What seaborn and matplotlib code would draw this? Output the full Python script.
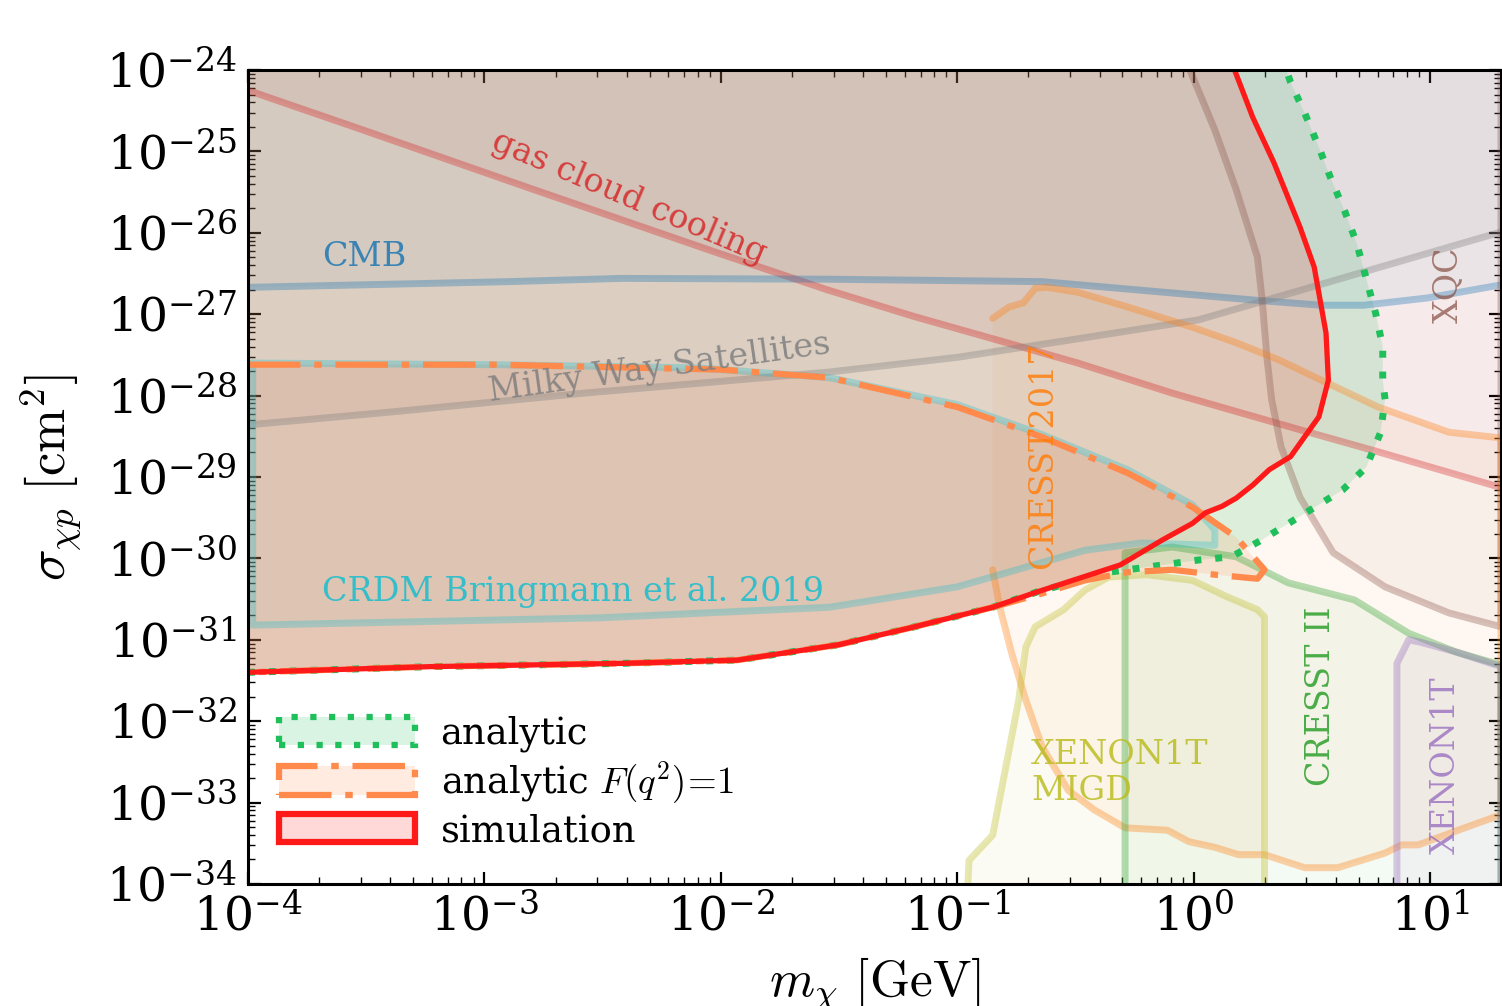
import numpy as np
import pandas as pd
import seaborn as sns
import matplotlib.pyplot as plt
from matplotlib.patches import Patch
from matplotlib.colors import to_rgba
from matplotlib.ticker import LogLocator, NullFormatter

# values: log10 of m_chi [GeV] and log10 of sigma [cm^2]

# gas cloud cooling (excluded above)
gas_m = [-4.00, -3.55, -2.79, -2.00, -1.55, -1.18, -0.73, -0.49, -0.09, 0.45, 0.78, 1.30]
gas_s = [-24.25, -24.70, -25.47, -26.26, -26.70, -27.03, -27.40, -27.60, -27.97, -28.42, -28.69, -29.13]

# CMB (excluded above)
cmb_m = [-4.00, -2.90, -2.42, -1.55, -0.64, 0.27, 0.54, 0.72, 0.99, 1.30]
cmb_s = [-26.67, -26.60, -26.56, -26.57, -26.60, -26.83, -26.89, -26.89, -26.80, -26.64]

# Milky Way satellites (excluded above)
mw_m = [-4.00, -3.39, -2.58, -1.54, -1.00, -0.53, 0.02, 0.27, 0.72, 1.30]
mw_s = [-28.36, -28.20, -27.97, -27.71, -27.53, -27.32, -27.07, -26.86, -26.48, -25.99]

# XQC (excluded to the right)
xqc_m = [-0.03, 0.09, 0.18, 0.27, 0.29, 0.31, 0.33, 0.37, 0.45, 0.59, 0.81, 1.08, 1.30]
xqc_s = [-23.90, -24.74, -25.47, -26.30, -26.83, -27.53, -28.05, -28.63, -29.25, -29.93, -30.35, -30.67, -30.84]

# CRESST 2017 contour (open on its left side)
c17_m = [-0.85, -0.78, -0.72, -0.67, -0.62, -0.49, -0.28, -0.005, 0.18, 0.36, 0.54, 0.78, 1.08, 1.30,
         1.30, 1.10, 0.95, 0.88, 0.81, 0.61, 0.47, 0.30, 0.19, 0.09, -0.02, -0.11, -0.29, -0.42,
         -0.53, -0.64, -0.71, -0.77, -0.82, -0.85]
c17_s = [-27.05, -26.91, -26.86, -26.68, -26.67, -26.73, -26.91, -27.16, -27.35, -27.56, -27.81, -28.14, -28.45, -28.52,
         -33.15, -33.36, -33.52, -33.52, -33.62, -33.80, -33.80, -33.64, -33.64, -33.55, -33.48, -33.34, -33.31, -33.09,
         -32.85, -32.32, -31.74, -31.16, -30.60, -30.14]

# XENON1T MIGD contour
migd_m = [-0.96, -0.95, -0.85, -0.74, -0.71, -0.67, -0.55, -0.46, -0.36, -0.20, -0.005, 0.14, 0.27, 0.30, 0.30]
migd_s = [-34.30, -33.71, -33.40, -31.74, -31.09, -30.84, -30.63, -30.39, -30.23, -30.20, -30.27, -30.47, -30.63, -30.72, -34.30]

# CRESST II contour
c2_m = [-0.29, -0.29, -0.09, 0.18, 0.40, 0.68, 0.82, 0.91, 1.11, 1.30, 1.30]
c2_s = [-34.30, -29.93, -29.86, -29.98, -30.30, -30.51, -30.76, -30.92, -31.15, -31.31, -34.30]

# XENON1T contour
x1t_m = [0.86, 0.86, 0.91, 0.96, 1.11, 1.30, 1.30]
x1t_s = [-34.30, -31.29, -31.00, -31.03, -31.15, -31.33, -34.30]

# CRDM Bringmann et al. 2019 contour
crdm_m = [-3.98, -2.95, -2.09, -1.54, -1.00, -0.64, -0.28, -0.005, 0.09, 0.09, -0.22, -0.46, -1.00, -1.54, -2.51, -3.98, -3.98]
crdm_s = [-27.60, -27.62, -27.66, -27.78, -28.11, -28.48, -28.91, -29.34, -29.65, -29.84, -29.81, -29.90, -30.35, -30.60, -30.73, -30.82, -27.60]

# this work: analytic with F(q^2)=1
f1_m = [-4.00, -2.95, -2.00, -1.54, -1.00, -0.64, -0.28, -0.005, 0.18, 0.30, 0.27, 0.09, -0.09, -0.28, -0.46,
        -0.64, -0.85, -1.18, -1.50, -1.93, -2.42, -3.23, -4.00]
f1_s = [-27.62, -27.62, -27.68, -27.78, -28.14, -28.51, -28.95, -29.37, -29.74, -30.14, -30.25, -30.20, -30.14, -30.17, -30.27,
        -30.43, -30.60, -30.84, -31.06, -31.25, -31.29, -31.33, -31.40]

# this work: analytic
ana_m = [-4.00, -3.23, -2.42, -1.93, -1.50, -1.18, -0.85, -0.66, -0.36, -0.28, 0.02, 0.16, 0.29, 0.48, 0.63, 0.73,
         0.79, 0.81, 0.80, 0.80, 0.77, 0.73, 0.69, 0.64, 0.58, 0.53, 0.47, 0.41, 0.38]
ana_s = [-31.40, -31.33, -31.29, -31.25, -31.06, -30.84, -30.60, -30.41, -30.17, -30.14, -30.02, -29.98, -29.77, -29.43, -29.16, -28.88,
         -28.46, -28.05, -27.81, -27.40, -26.99, -26.56, -26.13, -25.74, -25.33, -24.95, -24.53, -24.15, -23.90]

# this work: simulation
sim_m = [-4.00, -3.23, -2.42, -1.93, -1.50, -1.18, -0.85, -0.66, -0.31, -0.13, -0.005, 0.05, 0.12, 0.18, 0.25,
         0.32, 0.41, 0.53, 0.57, 0.56, 0.51, 0.45, 0.34, 0.25, 0.16]
sim_s = [-31.40, -31.33, -31.29, -31.25, -31.06, -30.84, -30.60, -30.41, -30.08, -29.77, -29.57, -29.44, -29.36, -29.26, -29.10,
         -28.91, -28.75, -28.26, -27.81, -27.23, -26.42, -25.93, -25.14, -24.58, -23.90]

c_sim = "#ff1a1a"
c_ana = "#1fbf5b"
c_f1 = "#ff8a4c"

sns.set_style("ticks", {"axes.edgecolor": "black", "xtick.color": "black", "ytick.color": "black",
                        "axes.labelcolor": "black", "text.color": "black",
                        "xtick.direction": "in", "ytick.direction": "in"})
plt.rcParams["font.family"] = ["DejaVu Serif"]
plt.rcParams["mathtext.fontset"] = "cm"

fig = plt.figure(figsize=(15.02, 10.06), dpi=100)
ax = fig.add_axes([0.1651, 0.1213, 0.8342, 0.8091])
ax.set_xscale("log")
ax.set_yscale("log")


def frame(m, s):
    return pd.DataFrame({"m": np.power(10.0, m), "s": np.power(10.0, s)})


def bound(m, s, color, fill_alpha=0.05, line_alpha=0.35, lw=5, close_top=False):
    d = frame(m, s)
    if close_top:
        f = frame(list(m) + [m[-1], m[0]], list(s) + [-23.0, -23.0])
    else:
        f = d
    ax.fill(f.m, f.s, color=color, alpha=fill_alpha, lw=0)
    sns.lineplot(data=d, x="m", y="s", sort=False, estimator=None, color=color,
                 alpha=line_alpha, lw=lw, ax=ax)


# other constraints
bound(gas_m, gas_s, "tab:red", close_top=True)
bound(cmb_m, cmb_s, "tab:blue", close_top=True)
bound(mw_m, mw_s, "tab:gray", close_top=True)
bound(xqc_m + [1.30], xqc_s + [-23.0], "tab:brown")
bound(c17_m, c17_s, "tab:orange")
bound(migd_m, migd_s, "tab:olive")
bound(c2_m, c2_s, "tab:green")
bound(x1t_m, x1t_s, "tab:purple")
bound(crdm_m, crdm_s, "tab:cyan", line_alpha=0.3)

# this work
a = frame(ana_m + [-4.0], ana_s + [-23.9])
ax.fill(a.m, a.s, color=c_ana, alpha=0.15, lw=0)
sns.lineplot(data=frame(ana_m, ana_s), x="m", y="s", sort=False, estimator=None, color=c_ana,
             lw=5, linestyle=(0, (1, 2)), ax=ax)

f = frame(f1_m, f1_s)
ax.fill(f.m, f.s, color=c_f1, alpha=0.15, lw=0)
sns.lineplot(data=f, x="m", y="s", sort=False, estimator=None, color=c_f1,
             lw=4.5, linestyle=(0, (8.4, 2.2, 1.2, 2.2)), ax=ax)

s = frame(sim_m + [-4.0], sim_s + [-23.9])
ax.fill(s.m, s.s, color=c_sim, alpha=0.15, lw=0)
sns.lineplot(data=frame(sim_m, sim_s), x="m", y="s", sort=False, estimator=None, color=c_sim,
             lw=3.8, ax=ax)

# labels of the regions
tk = dict(fontsize=24, zorder=5)
ax.text(2.05e-4, 3.9e-27, "CMB", color="tab:blue", alpha=0.85, ha="left", va="baseline", **tk)
ax.text(4.1e-3, 2.7e-26, "gas cloud cooling", color="tab:red", alpha=0.85, ha="center", va="center",
        rotation=-23, rotation_mode="anchor", **tk)
ax.text(5.5e-3, 2.2e-28, "Milky Way Satellites", color="tab:gray", alpha=0.85, ha="center", va="center",
        rotation=8, rotation_mode="anchor", **tk)
ax.text(2.05e-4, 3.0e-31, "CRDM Bringmann et al. 2019", color="tab:cyan", alpha=0.85, ha="left", va="baseline", **tk)
ax.text(0.232, 1.86e-29, "CRESST2017", color="tab:orange", alpha=0.85, ha="center", va="center", rotation=90, **tk)
ax.text(3.47, 2.0e-32, "CRESST II", color="tab:green", alpha=0.85, ha="center", va="center", rotation=90, **tk)
ax.text(11.7, 2.9e-33, "XENON1T", color="tab:purple", alpha=0.75, ha="center", va="center", rotation=90, **tk)
ax.text(11.9, 2.3e-27, "XQC", color="tab:brown", alpha=0.75, ha="center", va="center", rotation=90, **tk)
ax.text(0.205, 2.3e-33, "XENON1T\nMIGD", color="tab:olive", alpha=0.85, ha="left", va="center",
        linespacing=1.15, **tk)

ax.set_xlim(1e-4, 10 ** 1.30)
ax.set_ylim(1e-34, 1e-24)
for axis in (ax.xaxis, ax.yaxis):
    axis.set_major_locator(LogLocator(base=10, numticks=20))
    axis.set_minor_locator(LogLocator(base=10, subs=np.arange(2, 10), numticks=200))
    axis.set_minor_formatter(NullFormatter())
ax.tick_params(which="both", direction="in", top=True, right=True)
ax.tick_params(which="major", length=9, width=1.6, labelsize=34, pad=8)
ax.tick_params(which="minor", length=5, width=1.0)
for sp in ax.spines.values():
    sp.set_linewidth(2.2)

ax.set_xlabel(r"$m_\chi\ [\mathrm{GeV}]$", fontsize=37)
ax.set_ylabel(r"$\sigma_{\chi p}\ [\mathrm{cm}^2]$", fontsize=38)
ax.xaxis.set_label_coords(0.5, -0.088)
ax.yaxis.set_label_coords(-0.132, 0.5)

handles = [
    Patch(facecolor=to_rgba(c_ana, 0.17), edgecolor=c_ana, lw=4.5, linestyle=(0, (1, 2)), label="analytic"),
    Patch(facecolor=to_rgba(c_f1, 0.17), edgecolor=c_f1, lw=4.5, linestyle=(0, (8.4, 2.2, 1.2, 2.2)),
          label=r"analytic $F(q^2)\!=\!1$"),
    Patch(facecolor=to_rgba(c_sim, 0.17), edgecolor=c_sim, lw=4.5, label="simulation"),
]
ax.legend(handles=handles, loc="upper left", bbox_to_anchor=(0.025, 0.207), frameon=False, fontsize=26.5,
          borderaxespad=0, borderpad=0, handlelength=3.68, handleheight=0.8, handletextpad=0.7, labelspacing=0.2)

fig.savefig("out.png", dpi=100)
